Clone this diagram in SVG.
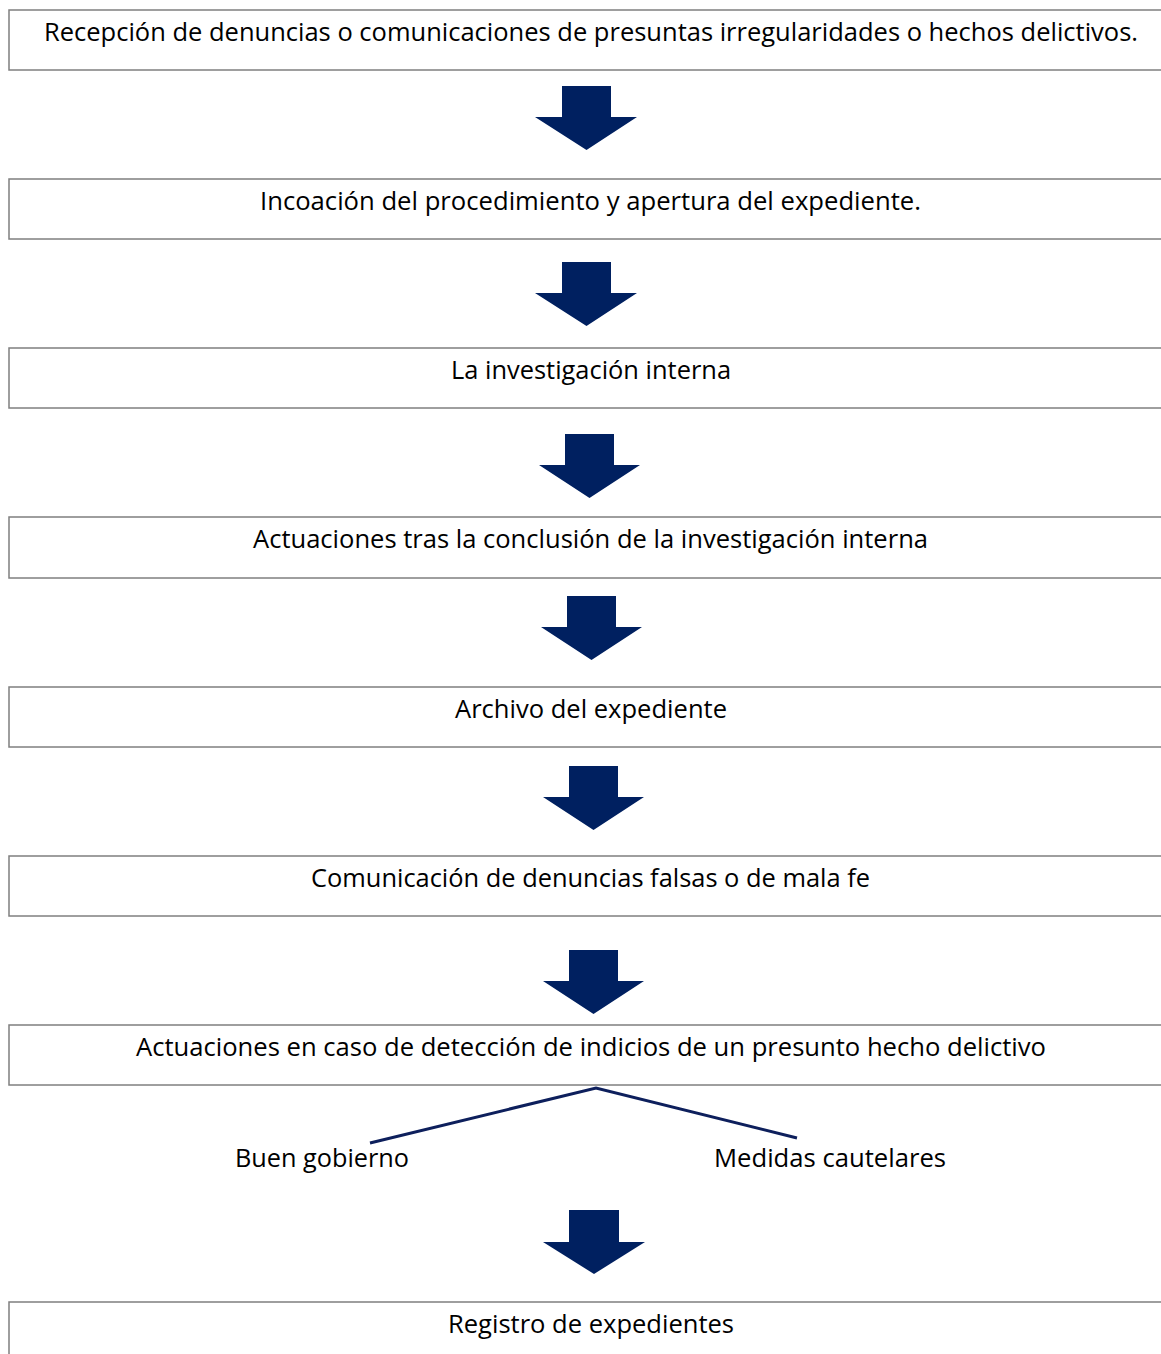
<svg xmlns="http://www.w3.org/2000/svg" width="1161" height="1354" viewBox="0 0 1161 1354">
<style>
.box{fill:#ffffff;stroke:#7f7f7f;stroke-width:1.5}
.t{font-family:"Open Sans","Noto Sans","Liberation Sans",sans-serif;font-size:25px;fill:#000000}
.arr{fill:#002060}
.ln{stroke:#0d1f5c;stroke-width:3;fill:none}
</style>
<rect width="1161" height="1354" fill="#ffffff"/>
<g id="n1"><rect class="box" x="9" y="10" width="1160" height="60"/><text class="t" x="44" y="41" textLength="1094" lengthAdjust="spacingAndGlyphs">Recepción de denuncias o comunicaciones de presuntas irregularidades o hechos delictivos.</text></g>
<g id="n2"><rect class="box" x="9" y="179" width="1160" height="60"/><text class="t" x="260" y="210" textLength="661" lengthAdjust="spacingAndGlyphs">Incoación del procedimiento y apertura del expediente.</text></g>
<g id="n3"><rect class="box" x="9" y="348" width="1160" height="60"/><text class="t" x="451" y="379" textLength="280" lengthAdjust="spacingAndGlyphs">La investigación interna</text></g>
<g id="n4"><rect class="box" x="9" y="517" width="1160" height="61"/><text class="t" x="253" y="548" textLength="675" lengthAdjust="spacingAndGlyphs">Actuaciones tras la conclusión de la investigación interna</text></g>
<g id="n5"><rect class="box" x="9" y="687" width="1160" height="60"/><text class="t" x="455" y="718" textLength="272" lengthAdjust="spacingAndGlyphs">Archivo del expediente</text></g>
<g id="n6"><rect class="box" x="9" y="856" width="1160" height="60"/><text class="t" x="311" y="887" textLength="559" lengthAdjust="spacingAndGlyphs">Comunicación de denuncias falsas o de mala fe</text></g>
<g id="n7"><rect class="box" x="9" y="1025" width="1160" height="60"/><text class="t" x="136" y="1056" textLength="910" lengthAdjust="spacingAndGlyphs">Actuaciones en caso de detección de indicios de un presunto hecho delictivo</text></g>
<g id="n8"><text class="t" x="235" y="1167" textLength="174" lengthAdjust="spacingAndGlyphs">Buen gobierno</text></g>
<g id="n9"><text class="t" x="714" y="1167" textLength="232" lengthAdjust="spacingAndGlyphs">Medidas cautelares</text></g>
<g id="n10"><rect class="box" x="9" y="1302" width="1160" height="60"/><text class="t" x="448" y="1333" textLength="286" lengthAdjust="spacingAndGlyphs">Registro de expedientes</text></g>
<g id="connectors">
<polygon class="arr" points="562,86 611,86 611,117 637,117 586.5,150 535,117 562,117"/>
<polygon class="arr" points="562,262 611,262 611,293 637,293 586.5,326 535,293 562,293"/>
<polygon class="arr" points="565,434 614,434 614,465 640,465 589.5,498 539,465 565,465"/>
<polygon class="arr" points="567,596 616,596 616,627 642,627 591.5,660 541,627 567,627"/>
<polygon class="arr" points="569,766 618,766 618,797 644,797 593.5,830 543,797 569,797"/>
<polygon class="arr" points="569,950 618,950 618,981 644,981 593.5,1014 543,981 569,981"/>
<polygon class="arr" points="569,1210 619,1210 619,1242 645,1242 594,1274 543,1242 569,1242"/>
<polyline class="ln" points="370,1143 596,1088 797,1138"/>
</g>
</svg>
